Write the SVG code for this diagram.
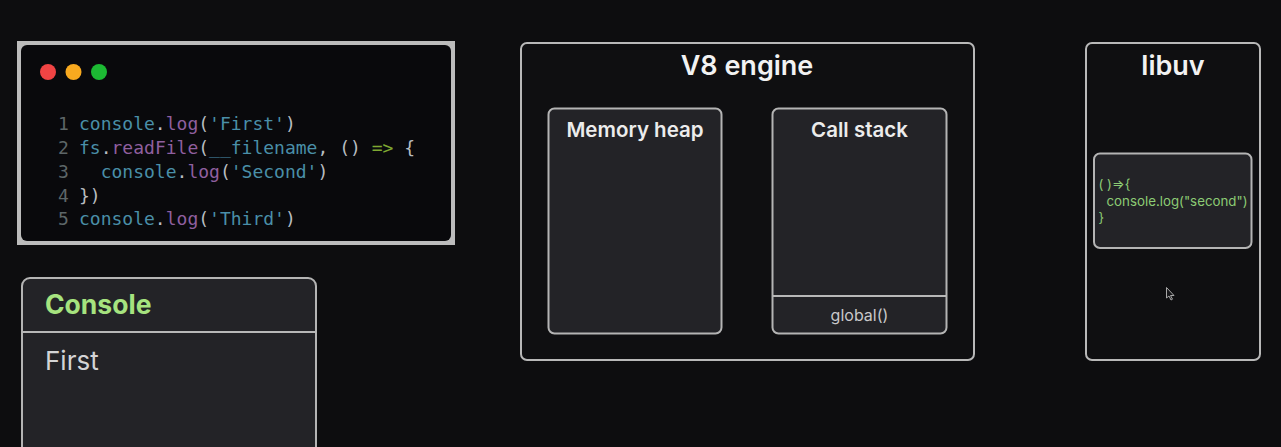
<svg xmlns="http://www.w3.org/2000/svg" width="1281" height="447" viewBox="0 0 1281 447">
<style>
.box{fill:#0f0f11;stroke:#b8b8b8;stroke-width:2}
.inner{fill:#232327;stroke:#b4b4b4;stroke-width:2}
.line{stroke:#b8b8b8;stroke-width:2;fill:none}
text{font-family:Inter,"Liberation Sans",sans-serif}
.h1{font-size:27px;font-weight:600;fill:#f2f2f2;text-anchor:middle}
.h2{font-size:20.500px;font-weight:600;fill:#ececec;text-anchor:middle}
.code{font-family:"DejaVu Sans Mono","Liberation Mono",monospace;font-size:18px;fill:#b8bcc0}
.n{fill:#5d6668}.b{fill:#4a8fa8}.p{fill:#8f5f9f}.g{fill:#7fa832}
.lib{font-size:13.300px;fill:#8ccb74}
</style>
<rect width="1281" height="447" fill="#0d0d0f"/>
<g id="connectors"></g>
<g id="code-window">
<rect x="17" y="41" width="438" height="204" fill="#bcbcbc"/>
<rect x="21" y="45" width="430" height="196" rx="6" fill="#09090c"/>
<circle cx="48" cy="72" r="8" fill="#f04444"/>
<circle cx="73.500" cy="72" r="8" fill="#f8a91f"/>
<circle cx="99" cy="72" r="8" fill="#1cba33"/>
<text class="code" y="130" xml:space="preserve"><tspan class="n" x="58">1</tspan><tspan class="b" x="79">console</tspan><tspan>.</tspan><tspan class="p">log</tspan><tspan>(</tspan><tspan class="b">'First'</tspan><tspan>)</tspan></text>
<text class="code" y="154" xml:space="preserve"><tspan class="n" x="58">2</tspan><tspan class="b" x="79">fs</tspan><tspan>.</tspan><tspan class="p">readFile</tspan><tspan>(</tspan><tspan class="b">__filename</tspan><tspan>, () </tspan><tspan class="g">=&gt;</tspan><tspan> {</tspan></text>
<text class="code" y="178" xml:space="preserve"><tspan class="n" x="58">3</tspan><tspan class="b" x="100.700">console</tspan><tspan>.</tspan><tspan class="p">log</tspan><tspan>(</tspan><tspan class="b">'Second'</tspan><tspan>)</tspan></text>
<text class="code" y="202" xml:space="preserve"><tspan class="n" x="58">4</tspan><tspan x="79">})</tspan></text>
<text class="code" y="225" xml:space="preserve"><tspan class="n" x="58">5</tspan><tspan class="b" x="79">console</tspan><tspan>.</tspan><tspan class="p">log</tspan><tspan>(</tspan><tspan class="b">'Third'</tspan><tspan>)</tspan></text>
</g>
<g id="console">
<path d="M22 448V286a8 8 0 0 1 8-8H308a8 8 0 0 1 8 8V448" class="inner"/>
<line x1="22" y1="332" x2="316" y2="332" class="line"/>
<text x="45" y="314" font-size="26.500" font-weight="700" fill="#a6e37f">Console</text>
<text x="45" y="370" font-size="26" fill="#d4d4d6">First</text>
</g>
<g id="v8-engine">
<rect x="521" y="43" width="453" height="317" rx="6" class="box"/>
<text x="747" y="75" class="h1">V8 engine</text>
</g>
<g id="memory-heap">
<rect x="548.500" y="108.500" width="173" height="225" rx="6" class="inner"/>
<text x="635" y="137" class="h2">Memory heap</text>
</g>
<g id="call-stack">
<rect x="772.500" y="108.500" width="174" height="225" rx="6" class="inner"/>
<line x1="773" y1="296" x2="946" y2="296" class="line"/>
<text x="859.500" y="137" class="h2">Call stack</text>
<text x="859.500" y="321" font-size="16" fill="#c8c8ca" text-anchor="middle">global()</text>
</g>
<g id="libuv">
<rect x="1086" y="43" width="174" height="317" rx="6" class="box"/>
<text x="1173" y="75" class="h1">libuv</text>
</g>
<g id="libuv-callback">
<rect x="1094" y="153.500" width="157.500" height="94.500" rx="6" class="inner"/>
<text class="lib" xml:space="preserve"><tspan x="1098.500" y="189">( )⇒{</tspan><tspan x="1106.500" y="205.500">console.log("second")</tspan><tspan x="1098.500" y="221.500">}</tspan></text>
</g>
<path id="cursor" d="M1166.500 287.500v10.500l2.500-2 2 4 1.500-.8-2-3.700h3.500z" fill="#17171a" stroke="#a8a8a8" stroke-width="1"/>
</svg>
